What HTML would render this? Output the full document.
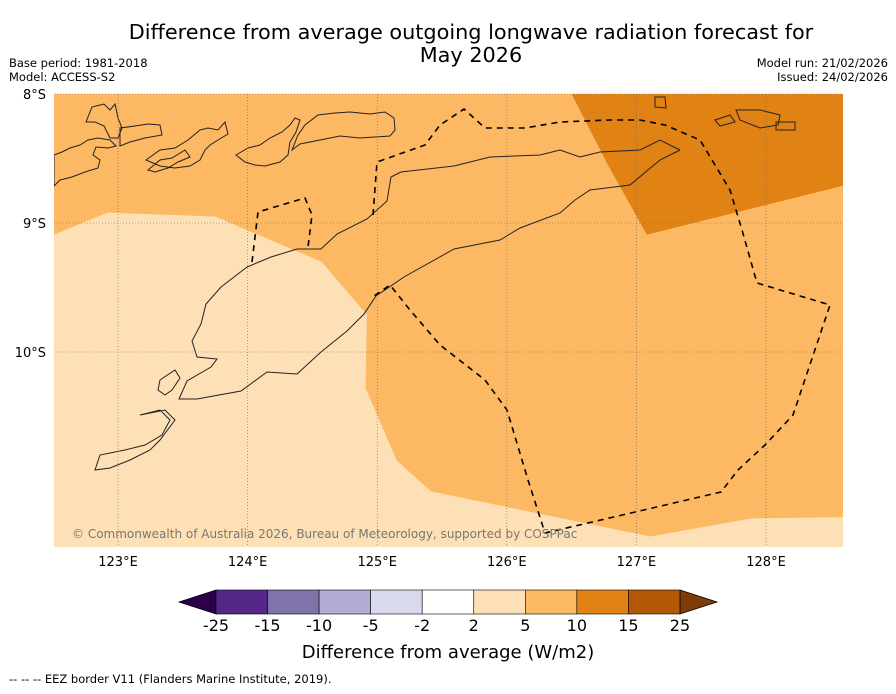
<!DOCTYPE html>
<html><head><meta charset="utf-8"><style>
body{margin:0;background:#fff;width:896px;height:690px;overflow:hidden;font-family:"DejaVu Sans","Liberation Sans",sans-serif;}
svg text{font-family:"DejaVu Sans","Liberation Sans",sans-serif;}
</style></head><body>
<svg id="chart" width="896" height="690">
<text x="471" y="39" font-size="20.8" text-anchor="middle">Difference from average outgoing longwave radiation forecast for</text>
<text x="471" y="62" font-size="20.8" text-anchor="middle">May 2026</text>
<text x="9" y="67" font-size="11.5">Base period: 1981-2018</text>
<text x="9" y="81" font-size="11.5">Model: ACCESS-S2</text>
<text x="888" y="67" font-size="11.5" text-anchor="end">Model run: 21/02/2026</text>
<text x="888" y="81" font-size="11.5" text-anchor="end">Issued: 24/02/2026</text>
<defs><clipPath id="mapclip"><rect x="54" y="94" width="789" height="453"/></clipPath></defs>
<g id="map" clip-path="url(#mapclip)">
<rect x="54" y="94" width="789" height="453" fill="#fde0b6"/>
</g>
<g id="overlay" clip-path="url(#mapclip)" fill="none" stroke="#222" stroke-width="1">
<polyline points="680,150 660,140 640,150 600,152 580,157 560,150 540,155 490,157 454,166 401,172 391,177 387,201 367,219 337,234 321,249 297,249 271,257 247,267 221,287 206,304 201,324 192,341 197,357 217,359 211,367 187,381 179,399 197,399 241,391 267,372 297,374 321,352 347,331 364,314 376,296 404,277 454,249 500,240 520,228 560,213 575,200 590,190 630,185 660,160 680,150"/>
<path d="
M54,186 L60,180 72,177 85,172 98,168 100,160 93,155 96,147 108,148 116,146 110,140 98,138 88,140 80,145 70,148 62,152 54,155 Z
M86,122 L92,107 104,104 110,110 115,104 118,118 122,128 118,138 110,138 104,126 95,122 Z
M120,128 L135,126 148,124 160,125 162,135 145,138 130,142 120,146 Z
M148,170 L160,160 172,158 185,150 190,157 178,162 168,168 155,172 Z
M146,160 L160,150 175,148 188,140 200,130 208,128 218,130 225,122 228,134 218,140 210,145 205,150 200,160 190,166 175,168 160,166 Z
M236,155 L248,148 260,145 270,138 282,132 290,125 295,118 300,120 296,132 290,142 288,155 280,162 265,166 255,165 245,162 Z
M292,150 L300,144 320,140 340,136 360,138 390,136 395,130 394,118 385,112 370,114 350,112 335,113 318,115 305,125 298,135 Z
M736,110 L760,110 780,115 778,125 760,128 740,120 Z M655,97 L665,97 666,108 655,107 Z M715,120 L730,115 735,122 720,126 Z M776,122 L795,122 795,130 776,130 Z
M160,380 L175,370 180,378 172,390 165,395 158,390 Z
M140,415 L160,410 170,420 162,435 145,445 125,450 100,455 95,470 110,468 130,460 150,450 160,440 175,420 165,410 Z"/>
<path stroke="#000" stroke-width="1.6" stroke-dasharray="6,5" d="M252,262 L258,212 305,198 312,215 308,247 M373,215 L377,162 425,145 440,125 464,109 485,128 525,128 560,122 610,120 640,120 665,125 700,140 730,190 742,230 757,283 830,305 793,415 765,445 738,470 721,492 545,533 528,480 507,410 485,380 440,345 410,310 390,285 374,296"/>
</g>
<g id="grid" stroke="#666" stroke-width="0.6" stroke-dasharray="1,2"></g>
<text x="72" y="538" font-size="12" fill="#777">© Commonwealth of Australia 2026, Bureau of Meteorology, supported by COSPPac</text>
<g id="axes"></g>
<g id="colorbar"></g>
<text x="448" y="658" font-size="18" text-anchor="middle">Difference from average (W/m2)</text>
<text x="9" y="683" font-size="11.5">--  --  -- EEZ border V11 (Flanders Marine Institute, 2019).</text>
</svg>
<script>
const lonTicks=[123,124,125,126,127,128];
const latTicks=[-8,-9,-10];
const levelLabels=["-25","-15","-10","-5","-2","2","5","10","15","25"];
const levelColors=["#542788","#8073ac","#b2abd2","#d8daeb","#ffffff","#fee0b6","#fdb863","#e08214","#b35806"];
const extendColors=["#2d004b","#7f3b08"];
const medLon=[122.506,122.506,122.92,123.75,124.57,124.92,124.91,125.15,125.415,127.105,127.89,128.6,128.6];
const medLat=[-8,-9.09,-8.92,-8.95,-9.30,-9.71,-10.28,-10.84,-11.08,-11.43,-11.29,-11.28,-8];
const darkLon=[126.5,126.78,127.08,128.6,128.6];
const darkLat=[-8,-8.55,-9.09,-8.71,-8];
const NS="http://www.w3.org/2000/svg";
const x=lon=>54+(lon-122.506)*129.6;
const y=lat=>94+(-lat-8)*129;
function mk(t,a,p){const e=document.createElementNS(NS,t);for(const k in a)e.setAttribute(k,a[k]);p.appendChild(e);return e;}
const map=document.getElementById('map');
let p1=mk('polygon',{points:medLon.map((l,i)=>x(l)+','+y(medLat[i])).join(' '),fill:'#fdb863'},map);


let p2=mk('polygon',{points:darkLon.map((l,i)=>x(l)+','+y(darkLat[i])).join(' '),fill:'#e08214'},map);


const grid=document.getElementById('grid'),axes=document.getElementById('axes');
lonTicks.forEach(l=>{mk('line',{x1:x(l),x2:x(l),y1:94,y2:547},grid);
const t=mk('text',{x:x(l),y:566,'font-size':13,'text-anchor':'middle'},axes);t.textContent=l+'°E';

});
latTicks.forEach(l=>{mk('line',{x1:54,x2:843,y1:y(l),y2:y(l)},grid);
const t=mk('text',{x:46,y:y(l)+5,'font-size':13,'text-anchor':'end'},axes);t.textContent=(-l)+'°S';

});
const cb=document.getElementById('colorbar');const bx=216,bw=51.55,by=590,bh=24;
let tl=mk('polygon',{points:`179,602 ${bx},${by} ${bx},${by+bh}`,fill:extendColors[0],stroke:'#000','stroke-width':0.8},cb);


let tr=mk('polygon',{points:`${bx+9*bw},${by} 717,602 ${bx+9*bw},${by+bh}`,fill:extendColors[1],stroke:'#000','stroke-width':0.8},cb);


levelColors.forEach((c,i)=>{const r=mk('rect',{x:bx+i*bw,y:by,width:bw,height:bh,fill:c,stroke:'#000','stroke-width':0.6},cb);

});
levelLabels.forEach((s,i)=>{const t=mk('text',{x:bx+i*bw,y:631,'font-size':16,'text-anchor':'middle'},cb);t.textContent=s;

});
</script>
</body></html>
